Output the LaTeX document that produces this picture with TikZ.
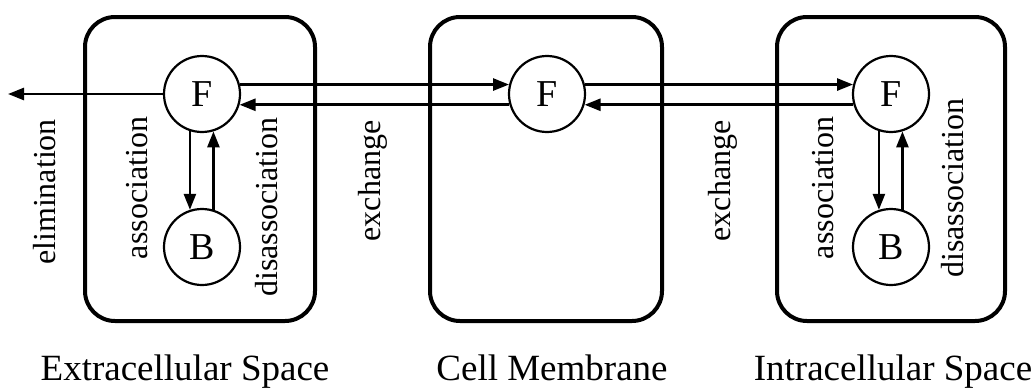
\documentclass[tikz,border=0pt]{standalone}
\usepackage{fontspec}
\setmainfont{Liberation Serif}
\usetikzlibrary{arrows.meta}
\begin{document}
\begin{tikzpicture}[x=1pt,y=-1pt,
  compartment/.style={draw,line width=4pt,rounded corners=30pt},
  species/.style={draw,circle,line width=2.2pt,minimum size=76pt,inner sep=0pt,font=\fontsize{38}{40}\selectfont},
  flow/.style={line width=2.6pt,-{Triangle[length=16pt,width=12pt]}},
  vlabel/.style={rotate=90,font=\fontsize{32}{34}\selectfont,inner sep=0pt},
  title/.style={anchor=base,font=\fontsize{37}{40}\selectfont,inner sep=0pt}]
\useasboundingbox (0,0) rectangle (1033,388);
% compartments
\draw[compartment] (85,17) rectangle (315,321);
\draw[compartment] (430,17) rectangle (662,321);
\draw[compartment] (777,17) rectangle (1005,321);
% species
\node[species] (F1) at (202,94) {F};
\node[species] (B1) at (202,247) {B};
\node[species] (F2) at (547,94) {F};
\node[species] (F3) at (891,94) {F};
\node[species] (B3) at (891,247) {B};
\coordinate (out) at (8,94);
% connectors
\draw[flow] (F1.west) -- (out);
\draw[flow] (F1.14) -- (F2.166);
\draw[flow] (F2.196) -- (F1.344);
\draw[flow] (F2.14) -- (F3.166);
\draw[flow] (F3.196) -- (F2.344);
\draw[flow] (F1.252) -- (B1.108);
\draw[flow] (B1.73) -- (F1.287);
\draw[flow] (F3.252) -- (B3.108);
\draw[flow] (B3.73) -- (F3.287);
% labels
\node[vlabel] (le) at (45,192) {elimination};
\node[vlabel] (la1) at (137,188) {association};
\node[vlabel] (ld1) at (267,207) {disassociation};
\node[vlabel] (lx1) at (373,181) {exchange};
\node[vlabel] (lx2) at (723,181) {exchange};
\node[vlabel] (la3) at (823,188) {association};
\node[vlabel] (ld3) at (953,188) {disassociation};
\node[title] (t1) at (185,380) {Extracellular Space};
\node[title] (t2) at (552,380) {Cell Membrane};
\node[title] (t3) at (893,380) {Intracellular Space};
\end{tikzpicture}
\end{document}
